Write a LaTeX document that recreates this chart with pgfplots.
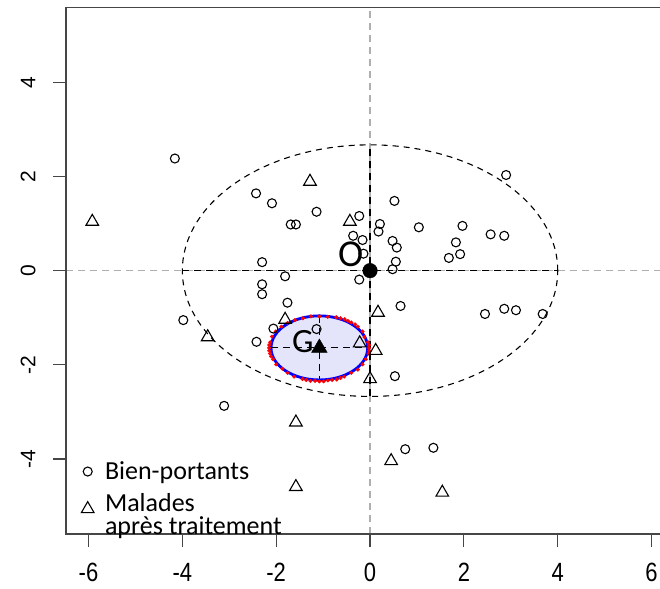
\documentclass[border=0pt]{standalone}
\usepackage{pgfplots}
\pgfplotsset{compat=1.18}
\usepackage{fontspec}
\setmainfont{Liberation Sans}
\newfontfamily\calib{Carlito}
\definecolor{lav}{RGB}{228,228,250}
\definecolor{framec}{RGB}{70,70,70}
\definecolor{abl}{RGB}{175,175,175}
\begin{document}
\begin{tikzpicture}
\begin{axis}[
  at={(0,0)}, anchor=south west,
  scale only axis, width=594pt, height=526.7pt,
  xmin=-6.48, xmax=6.18, ymin=-5.59, ymax=5.59,
  clip=false,
  axis line style={draw=none},
  xtick={-6,-4,...,6}, ytick={-4,-2,...,4},
  tick align=outside, xtick pos=left, ytick pos=left,
  major tick length=13pt,
  tick style={framec, line width=1.2pt},
  /pgf/number format/assume math mode=true,
  xticklabel style={font=\fontsize{22}{26}\selectfont, yscale=1.2},
  yticklabel style={font=\fontsize{21}{25}\selectfont, rotate=90, anchor=south},
  xticklabel shift=12pt, yticklabel shift=14pt,
  legend style={draw=none, fill=none, at={(axis cs:-6.22,-5.48)}, anchor=south west,
    font=\calib\fontsize{26}{19}\selectfont, row sep=8pt, column sep=9pt},
  legend cell align=left,
]
% reference lines
\addplot[abl, line width=1.1pt, dash pattern=on 7pt off 5pt, forget plot] coordinates {(0,-5.59) (0,5.59)};
\addplot[abl, line width=1.1pt, dash pattern=on 7pt off 5pt, forget plot] coordinates {(-6.48,0) (6.18,0)};
% big ellipse
\draw[black, line width=1.1pt, dash pattern=on 6pt off 5pt] (axis cs:0,0) ellipse [x radius=4, y radius=2.67];
\addplot[black, line width=1.1pt, dash pattern=on 7pt off 5pt, forget plot] coordinates {(-4,0) (4,0)};
\addplot[black, line width=1.1pt, dash pattern=on 7pt off 5pt, forget plot] coordinates {(0,-2.67) (0,2.67)};
% red boundary points
\addplot[only marks, mark=*, mark size=1.8pt, red, forget plot] coordinates {
(-0.02,-1.64) (-0.02,-1.58) (-0.045,-1.52) (-0.12,-1.41) (-0.16,-1.29) (-0.26,-1.19) (-0.32,-1.14)
(-0.40,-1.10) (-0.47,-1.07) (-0.54,-1.03) (-0.63,-1.01) (-0.72,-0.99) (-0.90,-0.98) (-1.08,-0.97)
(-1.26,-0.97) (-1.43,-1.01) (-1.60,-1.05) (-1.76,-1.11) (-1.89,-1.19) (-2.01,-1.29) (-2.09,-1.40)
(-2.13,-1.52) (-2.15,-1.58) (-2.15,-1.64) (-2.15,-1.70) (-2.13,-1.76) (-2.11,-1.82) (-2.07,-1.88)
(-2.00,-1.99) (-1.87,-2.08) (-1.76,-2.17) (-1.62,-2.25) (-1.44,-2.30) (-1.36,-2.32) (-1.27,-2.34)
(-1.17,-2.34) (-1.08,-2.35) (-0.99,-2.35) (-0.90,-2.33) (-0.81,-2.32) (-0.71,-2.31) (-0.63,-2.28)
(-0.55,-2.25) (-0.40,-2.17) (-0.26,-2.10) (-0.16,-1.99) (-0.09,-1.88) (-0.03,-1.76) (-0.02,-1.70)
};
% small ellipse
\draw[blue, line width=2.8pt, fill=lav] (axis cs:-1.08,-1.64) ellipse [x radius=1.03, y radius=0.68];
\addplot[black, line width=1.1pt, dash pattern=on 7pt off 5pt, forget plot] coordinates {(-2.11,-1.64) (-0.05,-1.64)};
\addplot[black, line width=1.1pt, dash pattern=on 7pt off 5pt, forget plot] coordinates {(-1.08,-0.96) (-1.08,-2.32)};
% Bien-portants
\addplot[only marks, mark=o, mark size=4.5pt, black, line width=1.1pt] coordinates {
(-4.16,2.38) (-2.43,1.64) (-2.09,1.43) (-1.14,1.25) (-1.69,0.98) (-1.58,0.98) (-2.30,0.18)
(-0.23,1.16) (-0.36,0.74) (0.52,1.48) (0.21,0.99) (0.18,0.83) (1.04,0.92) (-0.16,0.65)
(0.48,0.63) (0.57,0.49) (-0.14,0.36) (0.55,0.19) (0.48,0.03) (-0.23,-0.19)
(2.90,2.03) (1.97,0.95) (2.57,0.77) (2.86,0.74) (1.83,0.60) (1.92,0.35) (1.68,0.27)
(-1.81,-0.12) (-2.30,-0.29) (-2.30,-0.50) (-1.76,-0.68) (-2.06,-1.23) (-1.14,-1.24) (-2.42,-1.51)
(-3.98,-1.05) (-3.11,-2.87) (0.65,-0.75) (2.45,-0.92) (2.86,-0.81) (3.11,-0.84) (3.68,-0.92)
(0.53,-2.24) (0.75,-3.79) (1.35,-3.76)
};
\addlegendentry{Bien-portants}
% Malades apres traitement
\addplot[only marks, mark=triangle, mark size=7.3pt, black, line width=1.1pt] coordinates {
(-5.92,1.04) (-1.28,1.89) (-0.43,1.04) (-3.46,-1.41) (-1.81,-1.04) (-0.22,-1.54) (0.17,-0.89)
(0.12,-1.70) (0.00,-2.30) (-1.58,-3.22) (-1.58,-4.59) (0.45,-4.04) (1.54,-4.71)
};
\addlegendentry{\begin{tabular}{@{}l@{}}Malades\\après traitement\end{tabular}}
% centres
\addplot[only marks, mark=*, mark size=7.3pt, black, forget plot] coordinates {(0,0)};
\addplot[only marks, mark=triangle*, mark size=9pt, black, forget plot] coordinates {(-1.08,-1.64)};
\node[font=\calib\fontsize{34}{34}\selectfont, inner sep=0pt] at (axis cs:-1.43,-1.50) {G};
\node[font=\calib\fontsize{38}{38}\selectfont, inner sep=0pt] at (axis cs:-0.41,0.34) {O};
% frame (right side lies outside the picture)
\draw[framec, line width=1.3pt] (rel axis cs:1,0) -- (rel axis cs:0,0) -- (rel axis cs:0,1) -- (rel axis cs:1,1);
\end{axis}
\pgfresetboundingbox
\path[use as bounding box] (-66pt,-54pt) rectangle (594pt,534pt);
\end{tikzpicture}
\end{document}
